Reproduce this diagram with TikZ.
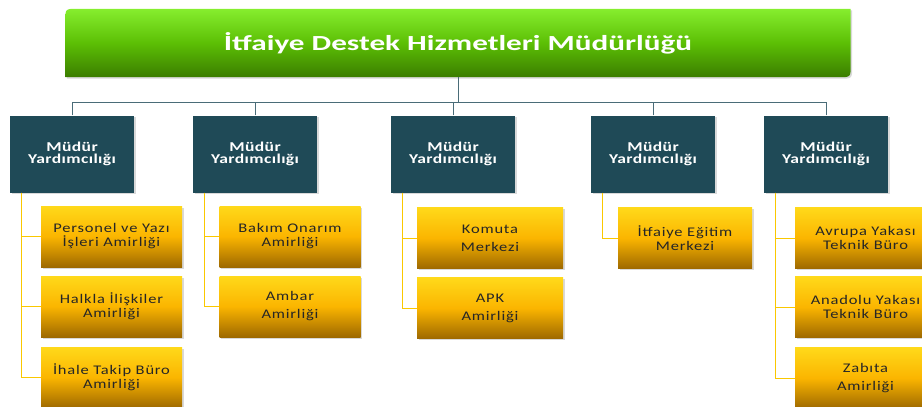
\documentclass[tikz,border=0pt]{standalone}
\usepackage{fontspec}
\setmainfont{Carlito}
\newfontfamily\widefont[FakeStretch=1.25,LetterSpace=6]{Carlito}
\newfontfamily\boxfont[FakeStretch=1.3,LetterSpace=3]{Carlito}
\newfontfamily\titlefont[FakeStretch=1.45]{Carlito}
\usetikzlibrary{scopes,shadows,backgrounds}
\definecolor{grtop}{HTML}{86EE2E}
\definecolor{grmid}{HTML}{5CBF05}
\definecolor{grbot}{HTML}{3B7D00}
\definecolor{petrol}{HTML}{1F4A57}
\definecolor{ytop}{HTML}{FFD91A}
\definecolor{ymid}{HTML}{FBB500}
\definecolor{ybot}{HTML}{9E6900}
\definecolor{linkgray}{HTML}{4A6C78}
\definecolor{gold}{HTML}{FAC800}

\begin{document}
\begin{tikzpicture}[x=1pt,y=-1pt,
    dropsh/.style={drop shadow={shadow xshift=1.5pt,shadow yshift=-1.5pt,opacity=.3}},
    head/.style={rectangle,minimum width=785pt,minimum height=68pt,text=white,
        font=\titlefont\fontsize{21.5}{24}\selectfont\bfseries},
    mdr/.style={rectangle,fill=petrol,minimum width=124pt,minimum height=77pt,
        text=white,align=center,dropsh,
        font=\boxfont\fontsize{13.5}{12.7}\selectfont\bfseries},
    amir/.style={rectangle,top color=ytop,bottom color=ybot,middle color=ymid,
        minimum width=141pt,minimum height=61pt,align=center,text=black!85,dropsh,
        font=\widefont\fontsize{13.2}{14}\selectfont},
    link/.style={draw=linkgray,line width=1pt},
    tick/.style={draw=gold,line width=1pt},
]
\useasboundingbox (0,0) rectangle (922,407);

\node[head] (mudurluk) at (458,43) {İtfaiye Destek Hizmetleri Müdürlüğü};
\begin{scope}[on background layer]
\shade[top color=grtop,bottom color=grbot,middle color=grmid,dropsh]
    (mudurluk.south west) -- ([yshift=-12pt]mudurluk.north west)
    .. controls (mudurluk.north west) .. ([xshift=12pt]mudurluk.north west)
    -- (mudurluk.north east) -- ([yshift=12pt]mudurluk.south east)
    .. controls (mudurluk.south east) .. ([xshift=-12pt]mudurluk.south east)
    -- cycle;
\end{scope}

\node[mdr] (y1) at (72,154) {Müdür\\Yardımcılığı};
\node[mdr] (y2) at (255,154) {Müdür\\Yardımcılığı};
\node[mdr] (y3) at (453,154) {Müdür\\Yardımcılığı};
\node[mdr] (y4) at (653,154) {Müdür\\Yardımcılığı};
\node[mdr] (y5) at (826,154) {Müdür\\Yardımcılığı};

\node[amir] (a11) at (111.5,236.5) {Personel ve Yazı\\İşleri  Amirliği};
\node[amir] (a12) at (111.5,306.5) {Halkla İlişkiler\\Amirliği};
\node[amir] (a13) at (111.5,377.5) {İhale Takip Büro\\Amirliği};
\node[amir] (a21) at (290,236.5) {Bakım Onarım\\Amirliği};
\node[amir] (a22) at (290,306.5) {Ambar\\[4pt]Amirliği};
\node[amir,minimum width=146pt] (a31) at (490,238) {Komuta\\[4pt]Merkezi};
\node[amir,minimum width=146pt] (a32) at (490,308) {APK\\[4pt]Amirliği};
\node[amir,minimum width=134pt] (a41) at (685,238) {İtfaiye Eğitim\\Merkezi};
\node[amir] (a51) at (865.5,238) {Avrupa Yakası\\Teknik Büro};
\node[amir] (a52) at (865.5,307) {Anadolu Yakası\\Teknik Büro};
\node[amir] (a53) at (865.5,378) {Zabıta\\[4pt]Amirliği};

\coordinate (bar) at (458,102);
{[link]
    \draw (mudurluk.south) -- (bar);
    \foreach \i in {1,...,5}
        \draw (y\i.north) |- (bar);
}
{[tick]
    \foreach \p/\c in {1/a11,1/a12,1/a13,2/a21,2/a22,3/a31,3/a32,4/a41,5/a51,5/a52,5/a53}
        \draw ([xshift=12pt]y\p.south west) |- (\c.west);
}
\end{tikzpicture}
\end{document}
